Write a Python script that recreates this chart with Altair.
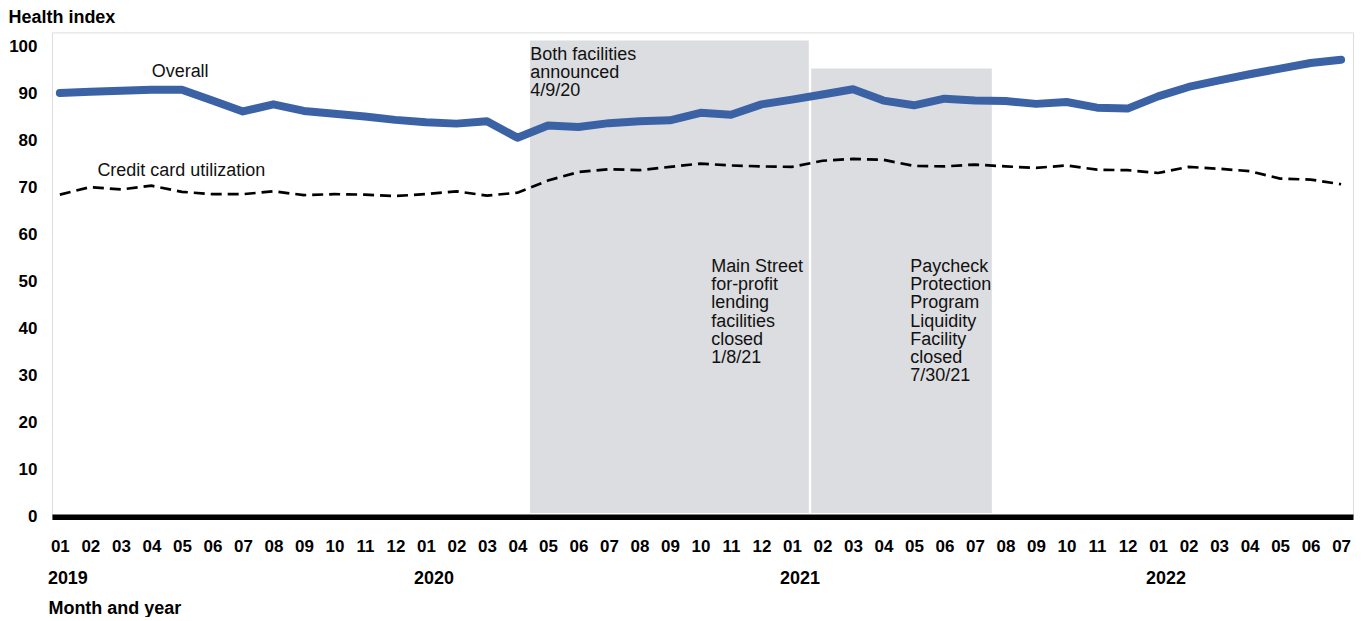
import altair as alt
import pandas as pd

# ---- data -------------------------------------------------------------
months = [f"{y}-{m:02d}" for y in (2019, 2020, 2021, 2022) for m in range(1, 13)][:43]
overall = [90.1, 90.4, 90.6, 90.8, 90.8, 88.5, 86.2, 87.7, 86.3, 85.7, 85.1, 84.4,
           83.9, 83.6, 84.1, 80.6, 83.2, 82.9, 83.7, 84.1, 84.3, 85.9, 85.5, 87.7,
           88.7, 89.8, 90.9, 88.5, 87.5, 88.9, 88.5, 88.4, 87.8, 88.2, 87.0, 86.8,
           89.4, 91.4, 92.8, 94.1, 95.3, 96.5, 97.2]
credit = [68.5, 70.1, 69.6, 70.4, 69.1, 68.6, 68.6, 69.2, 68.4, 68.6, 68.5, 68.2,
          68.6, 69.2, 68.3, 68.9, 71.5, 73.3, 73.9, 73.7, 74.4, 75.1, 74.7, 74.5,
          74.4, 75.7, 76.1, 75.9, 74.6, 74.5, 74.9, 74.5, 74.2, 74.7, 73.8, 73.7,
          73.1, 74.4, 74.0, 73.5, 71.9, 71.7, 70.7]

# shaded facility periods (month index units)
period_start = [15.41, 24.63]
period_end = [24.55, 30.55]
period_top = [101.3, 95.3]
period_bottom = [0.8, 0.8]

years = ["2019", "2020", "2021", "2022"]
year_pos = [0, 12, 24, 36]

ann_text = ["Overall", "Credit card utilization",
            "Both facilities\nannounced\n4/9/20",
            "Main Street\nfor-profit\nlending\nfacilities\nclosed\n1/8/21",
            "Paycheck\nProtection\nProgram\nLiquidity\nFacility\nclosed\n7/30/21"]
ann_x = [3.01, 1.23, 15.42, 21.35, 27.88]
ann_y = [93.45, 72.4, 97.2, 52.1, 52.1]

# ---- frames -----------------------------------------------------------
df = pd.DataFrame({"t": list(range(len(months))), "month": months,
                   "overall": overall, "credit": credit})
periods = pd.DataFrame({"start": period_start, "end": period_end,
                        "top": period_top, "bottom": period_bottom})
yrs = pd.DataFrame({"t": year_pos, "year": years})
ann = pd.DataFrame({"t": ann_x, "v": ann_y, "label": ann_text})

FONT = "Liberation Sans, Arial, sans-serif"

xscale = alt.Scale(domain=[-0.26, 42.39], nice=False, zero=False)
yscale = alt.Scale(domain=[0, 103], nice=False)

xaxis = alt.Axis(values=list(range(43)),
                 labelExpr="(datum.value % 12 + 1 < 10 ? '0' : '') + (datum.value % 12 + 1)",
                 labelFont=FONT, labelFontSize=17, labelFontWeight="bold", labelColor="black",
                 labelPadding=22, labelOverlap=False, labelFlush=False,
                 ticks=False, tickSize=0, grid=False,
                 domain=True, domainColor="black", domainWidth=5.6, domainCap="butt",
                 title="Month and year", titleFont=FONT, titleFontSize=18,
                 titleFontWeight="bold", titleColor="black",
                 titleX=-4, titleY=96.5, titleAlign="left", titleBaseline="alphabetic",
                 titleAnchor="start")
yaxis = alt.Axis(values=list(range(0, 101, 10)),
                 labelFont=FONT, labelFontSize=17, labelFontWeight="bold", labelColor="black",
                 labelPadding=15, ticks=False, tickSize=0, grid=False, domain=False,
                 title="Health index", titleFont=FONT, titleFontSize=18,
                 titleFontWeight="bold", titleColor="black", titleAngle=0,
                 titleX=-44, titleY=-10, titleAlign="left", titleBaseline="alphabetic")


def X(field):
    return alt.X(field, type="quantitative", scale=xscale, axis=xaxis)


def Y(field):
    return alt.Y(field, type="quantitative", scale=yscale, axis=yaxis)


boxes = alt.Chart(periods).mark_rect(color="#dcdde0").encode(
    x=X("start"), x2="end", y=Y("bottom"), y2="top")

credit_line = alt.Chart(df).mark_line(
    color="black", strokeWidth=2.7, strokeDash=[11, 6]).encode(x=X("t"), y=Y("credit"))

overall_line = alt.Chart(df).mark_line(
    color="#3b62a5", strokeWidth=8, strokeCap="round", strokeJoin="round").encode(
    x=X("t"), y=Y("overall"))

labels = alt.Chart(ann).mark_text(
    font=FONT, fontSize=18, color="#111111", align="left", baseline="alphabetic",
    lineBreak="\n", lineHeight=18.3).encode(x=X("t"), y=Y("v"), text="label:N")

year_text = alt.Chart(yrs).mark_text(
    font=FONT, fontSize=18, fontWeight="bold", color="black", align="left",
    baseline="alphabetic", dx=-12).encode(x=X("t"), y=alt.value(552.5), text="year:N")

chart = alt.layer(boxes, credit_line, overall_line, labels, year_text).properties(
    width=1303, height=485, autosize="none",
    padding={"left": 44, "top": 24, "right": 2, "bottom": 100},
).configure_view(stroke=None).configure(background="white")

chart.save("out.html", embed_options={"renderer": "svg", "actions": False})
